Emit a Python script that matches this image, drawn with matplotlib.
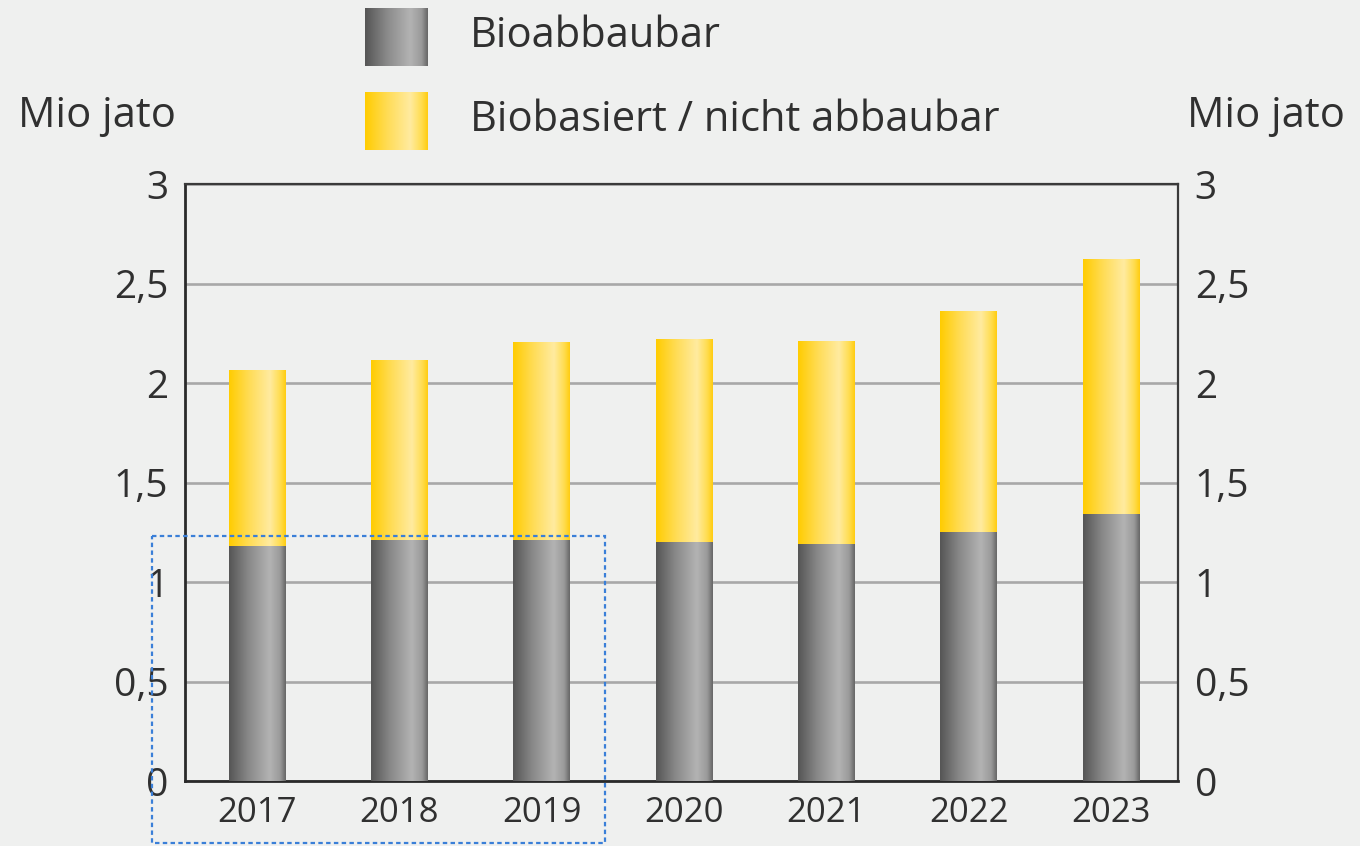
import matplotlib
matplotlib.use("Agg")
import matplotlib.pyplot as plt
import numpy as np
from matplotlib.colors import LinearSegmentedColormap
from matplotlib.patches import Rectangle

# Daten (Mio jato)
years = ["2017", "2018", "2019", "2020", "2021", "2022", "2023"]
bioabbaubar = [1.18, 1.21, 1.21, 1.20, 1.19, 1.25, 1.34]
nicht_abbaubar = [0.88, 0.90, 0.99, 1.02, 1.02, 1.11, 1.28]
yticks = [0, 0.5, 1, 1.5, 2, 2.5, 3]
yticklabels = ["0", "0,5", "1", "1,5", "2", "2,5", "3"]
legend_labels = ["Bioabbaubar", "Biobasiert / nicht abbaubar"]

bg = "#eff0ef"
txt = "#303030"
plt.rcParams["font.family"] = ["Open Sans", "DejaVu Sans"]

grey_cmap = LinearSegmentedColormap.from_list(
    "grau", [(0, "#555555"), (0.35, "#8a8a8a"), (0.72, "#b3b3b3"), (0.9, "#9a9a9a"), (1, "#666666")])
yellow_cmap = LinearSegmentedColormap.from_list(
    "gelb", [(0, "#ffcc00"), (0.35, "#ffdc55"), (0.72, "#ffeba0"), (0.9, "#ffdd50"), (1, "#ffcc10")])
grad = np.linspace(0, 1, 256).reshape(1, -1)

fig = plt.figure(figsize=(13.6, 8.46), dpi=100, facecolor=bg)
ax = fig.add_axes([185 / 1360, 65 / 846, 993 / 1360, 597 / 846], facecolor=bg)

x = np.arange(len(years))
w = 0.4


def gradient_bars(xs, heights, bottoms, cmap):
    bars = ax.bar(xs, heights, w, bottom=bottoms, color="none", edgecolor="none", zorder=3)
    for r in bars:
        x0, y0 = r.get_x(), r.get_y()
        ax.imshow(grad, extent=[x0, x0 + r.get_width(), y0, y0 + r.get_height()],
                  aspect="auto", cmap=cmap, zorder=3, interpolation="bicubic")


gradient_bars(x, bioabbaubar, 0, grey_cmap)
gradient_bars(x, nicht_abbaubar, bioabbaubar, yellow_cmap)

ax.set_xlim(-0.506, 6.47)
ax.set_ylim(0, 3)
ax.set_yticks(yticks)
ax.set_yticklabels(yticklabels)
ax.set_xticks(x)
ax.set_xticklabels(years)
ax.yaxis.grid(True, color="#a8a8a8", lw=1.9, zorder=1)
ax.set_axisbelow(True)
ax.tick_params(axis="y", length=0, pad=12, labelsize=28, labelcolor=txt,
               labelright=True, right=False)
ax.tick_params(axis="x", length=0, pad=11, labelsize=25, labelcolor=txt)
for s in ["left", "bottom"]:
    ax.spines[s].set_color("#2a2a2a")
    ax.spines[s].set_linewidth(2)
for s in ["top", "right"]:
    ax.spines[s].set_color("#3a3a3a")
    ax.spines[s].set_linewidth(1.6)

# Legende + Einheiten in Pixelkoordinaten
leg_ax = fig.add_axes([0, 0, 1, 1], facecolor="none")
leg_ax.axis("off")
leg_ax.text(18, 127, "Mio jato", fontsize=30, color=txt, va="baseline", ha="left")
leg_ax.text(1345, 127, "Mio jato", fontsize=30, color=txt, va="baseline", ha="right")
for i, (lab, cm) in enumerate(zip(legend_labels, [grey_cmap, yellow_cmap])):
    y0 = 8 + i * 84
    leg_ax.imshow(grad, extent=[365, 428, y0 + 58, y0], aspect="auto", cmap=cm, interpolation="bicubic")
    leg_ax.text(470, y0 + 28, lab, fontsize=30, color=txt, va="center", ha="left")

# gestrichelter Markierungsrahmen
leg_ax.add_patch(Rectangle((152, 536), 453, 307, fill=False, edgecolor="#3a7fd8",
                           lw=1.6, ls=(0, (2, 1.5))))
leg_ax.set_xlim(0, 1360)
leg_ax.set_ylim(846, 0)

fig.savefig("out.png", dpi=100, facecolor=bg)
